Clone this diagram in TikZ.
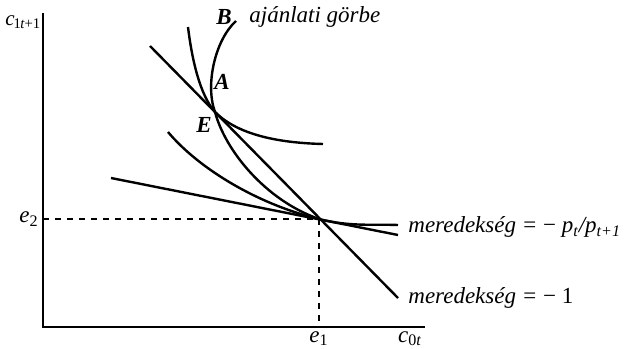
\documentclass[tikz,border=0pt]{standalone}
\usepackage{fontspec}
\setmainfont{Liberation Serif}
\usetikzlibrary{positioning, calc}

\begin{document}
\begin{tikzpicture}[x=0.5pt, y=-0.5pt]
        \tikzstyle{axis} = [line width=1.2pt]
        \tikzstyle{curve} = [line width=1.2pt]
        \tikzstyle{guide} = [line width=1pt, dash pattern=on 3pt off 3pt]
        \tikzstyle{lbl} = [inner sep=0pt, font=\fontsize{11.5}{13}\selectfont\itshape]
        \tikzstyle{pt} = [inner sep=0pt, font=\fontsize{11.5}{13}\selectfont\itshape\bfseries]

        \useasboundingbox (0,0) rectangle (631,348);

        % Axes
        \coordinate (O) at (43,327);
        \coordinate (ytop) at (43,13);
        \coordinate (xend) at (425,327);
        \draw [axis] (ytop) -- (O) -- (xend);

        % Points
        \coordinate (E) at (215,112);
        \coordinate (W) at (319,219);
        \coordinate (Bpt) at (236,21);
        \coordinate (e2pt) at (43,219);
        \coordinate (e1pt) at (319,327);

        % Dashed guides
        \draw [guide] (e2pt) -- (W) -- (e1pt);

        % Budget lines
        \coordinate (s1a) at (150,46);
        \coordinate (s1b) at (398,298);
        \draw [curve] (s1a) -- (s1b);
        \coordinate (s2a) at (111,178);
        \coordinate (s2b) at (398,235);
        \draw [curve] (s2a) -- (s2b);

        % Indifference curves
        \coordinate (u1a) at (188,27);
        \coordinate (u1b) at (323,144);
        \draw [curve] (u1a) .. controls (192,60) and (200,95) .. (E)
                .. controls (240,137) and (285,143) .. (u1b);
        \coordinate (u2a) at (168,132);
        \coordinate (u2b) at (398,225);
        \draw [curve] (u2a) .. controls (200,170) and (260,205) .. (W)
                .. controls (350,227) and (375,224) .. (u2b);

        % Offer curve
        \draw [curve] (Bpt) .. controls (215,40) and (205,85) .. (E)
                .. controls (225,150) and (265,200) .. (W);

        % Labels
        \node (ylab) [lbl, font=\fontsize{10.5}{12}\selectfont\itshape, anchor=west] at (5,22) {c\kern-0.5pt\textsubscript{\upshape 1\kern-0.3pt\itshape t\upshape +1}};
        \node (e2) [lbl, anchor=east] at (39,219) {e\textsubscript{\upshape 2}};
        \node (e1) [lbl, anchor=north] at (319,331) {e\textsubscript{\upshape 1}};
        \node (xlab) [lbl, anchor=north] at (410,331) {c\textsubscript{\upshape 0\itshape t}};
        \node (B) [pt] at (224,17) {B};
        \node (offer) [lbl, anchor=west] at (249,17) {ajánlati görbe};
        \node (A) [pt] at (222,82) {A};
        \node (Elab) [pt] at (204,125) {E};
        \node (slope2) [lbl, anchor=west] at (408,227) {meredekség = {\upshape −} p\textsubscript{t}/p\textsubscript{t+1}};
        \node (slope1) [lbl, anchor=west] at (408,298) {meredekség = {\upshape − 1}};
\end{tikzpicture}
\end{document}
